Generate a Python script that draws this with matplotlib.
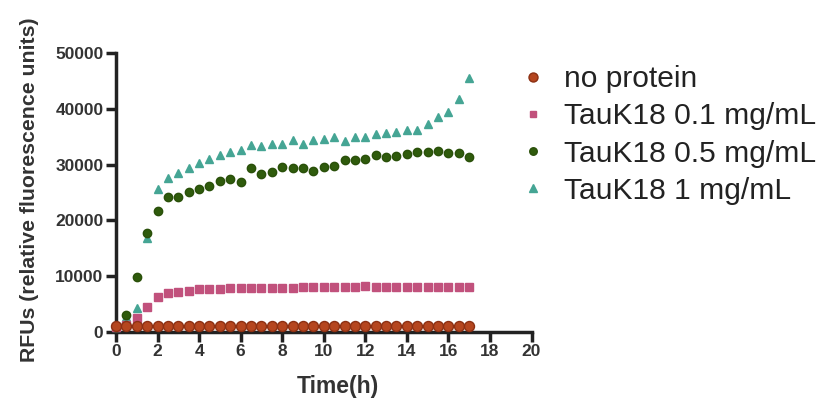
import matplotlib
matplotlib.use("Agg")
import matplotlib.pyplot as plt
import numpy as np

plt.rcParams['font.family'] = ['Liberation Sans', 'DejaVu Sans']

time_h = [i * 0.5 for i in range(35)]  # 0 .. 17 h every 0.5 h

no_protein = [950, 950, 950, 950, 950, 950, 950, 950, 950, 950, 950, 950, 950, 950,
              950, 950, 950, 950, 950, 950, 950, 950, 950, 950, 950, 950, 950, 950,
              950, 950, 950, 950, 950, 950, 950]
tau_01 = [900, 1200, 2500, 4500, 6200, 6900, 7200, 7400, 7600, 7700, 7700, 7800, 7800, 7800,
          7900, 7900, 7900, 7900, 8000, 8000, 8000, 8000, 8000, 8000, 8200, 8000, 8000, 8000,
          8000, 8000, 8000, 8000, 8000, 8100, 8000]
tau_05 = [900, 3000, 9900, 17700, 21700, 24200, 24200, 25100, 25700, 26200, 27100, 27500, 26900, 29400,
          28300, 28700, 29600, 29400, 29400, 28900, 29600, 29800, 30800, 30800, 31000, 31700, 31400, 31600,
          31900, 32300, 32300, 32500, 32100, 32100, 31400]
tau_1 = [900, 2700, 4200, 16800, 25700, 27700, 28500, 29400, 30300, 31100, 31700, 32300, 32700, 33600,
         33300, 33800, 33700, 34400, 33800, 34500, 34700, 34900, 34200, 35000, 35000, 35600, 35700, 35900,
         36300, 36300, 37400, 38500, 39500, 41900, 45500]

labels = ['no protein', 'TauK18 0.1 mg/mL', 'TauK18 0.5 mg/mL', 'TauK18 1 mg/mL']
series = [no_protein, tau_01, tau_05, tau_1]
colors = ['#B5461F', '#C1517C', '#2F5B0C', '#45A594']
edges = ['#8C3013', '#C1517C', '#2A500A', '#45A594']
markers = ['o', 's', 'o', '^']
sizes = [7.2, 5.2, 6.0, 6.2]

fig = plt.figure(figsize=(8.18, 4.08), dpi=100)
ax = fig.add_axes([0.1418, 0.187, 0.508, 0.682])

handles = []
for i, (lab, vals) in enumerate(zip(labels, series)):
    h, = ax.plot(time_h, vals, linestyle='none', marker=markers[i], ms=sizes[i],
                 mfc=colors[i], mec=edges[i], mew=1.0, label=lab,
                 zorder=10 - i, clip_on=False)
    handles.append(h)

ax.set_xlim(0, 20)
ax.set_ylim(0, 50000)
ax.set_xticks(np.arange(0, 21, 2))
ax.set_yticks(np.arange(0, 50001, 10000))
for s in ['top', 'right']:
    ax.spines[s].set_visible(False)
for s in ['left', 'bottom']:
    ax.spines[s].set_linewidth(2.5)
    ax.spines[s].set_color('#222222')
ax.tick_params(axis='both', width=2.5, length=7, color='#222222',
               labelsize=12.5, labelcolor='#333333', pad=2)
for t in ax.get_xticklabels() + ax.get_yticklabels():
    t.set_fontweight('bold')

ax.set_xlabel('Time(h)', fontsize=16.5, fontweight='bold', color='#333333')
ax.xaxis.set_label_coords(0.535, -0.155)
ax.set_ylabel('RFUs (relative fluorescence units)', fontsize=15.3, fontweight='bold',
              color='#333333')
ax.yaxis.set_label_coords(-0.186, 0.51)

leg = fig.legend(handles=handles, labels=labels, loc='upper left',
                 bbox_to_anchor=(0.6255, 0.87), frameon=False, fontsize=21.6,
                 markerscale=0.9, handletextpad=0.75, labelspacing=0.31,
                 handlelength=0.6, borderaxespad=0)
for txt in leg.get_texts():
    txt.set_color('#222222')

fig.savefig('out.png', dpi=100)
